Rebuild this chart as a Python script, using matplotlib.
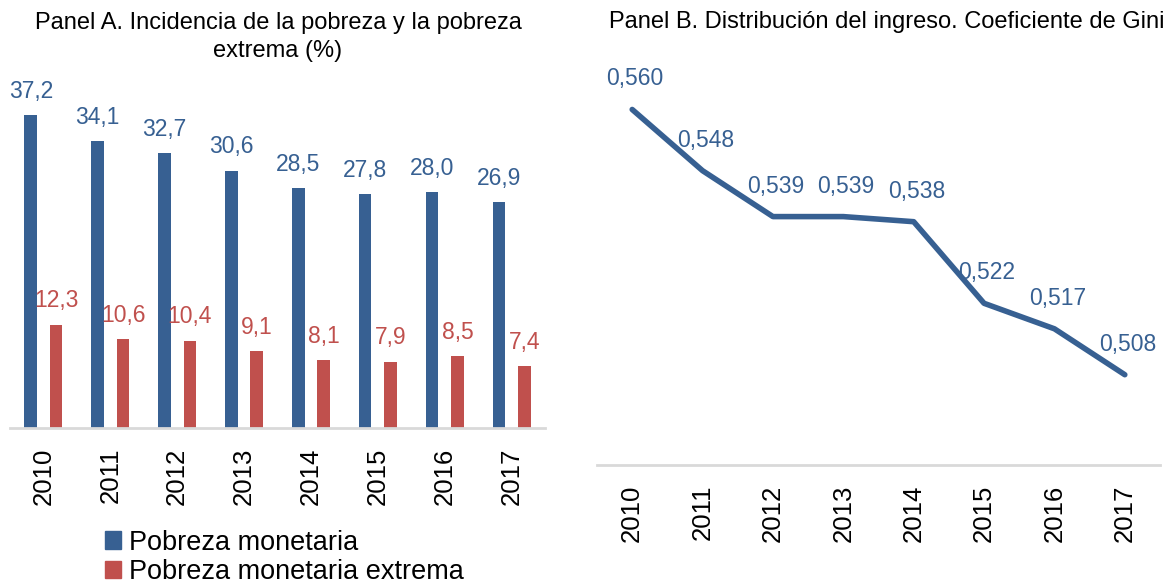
import matplotlib.pyplot as plt
from matplotlib.patches import Patch

plt.rcParams['font.family'] = ['Liberation Sans', 'DejaVu Sans']

years = ['2010', '2011', '2012', '2013', '2014', '2015', '2016', '2017']
pobreza = [37.2, 34.1, 32.7, 30.6, 28.5, 27.8, 28.0, 26.9]
pobreza_extrema = [12.3, 10.6, 10.4, 9.1, 8.1, 7.9, 8.5, 7.4]
gini = [0.560, 0.548, 0.539, 0.539, 0.538, 0.522, 0.517, 0.508]

blue = '#376092'
red = '#C0504D'
axis_gray = '#D9D9D9'


def fmt(v, nd):
    return f'{v:.{nd}f}'.replace('.', ',')


fig = plt.figure(figsize=(11.73, 5.87), dpi=100)

# Panel A
ax1 = fig.add_axes([10 / 1173, 1 - 428 / 587, 535 / 1173, 355 / 587])
x = range(len(years))
w = 0.19
ax1.bar([i - 0.19 for i in x], pobreza, width=w, color=blue)
ax1.bar([i + 0.19 for i in x], pobreza_extrema, width=w, color=red)
for i in x:
    ax1.annotate(fmt(pobreza[i], 1), (i - 0.19, pobreza[i]), xytext=(0, 17),
                 textcoords='offset points', ha='center', va='center',
                 fontsize=16.5, color=blue)
    ax1.annotate(fmt(pobreza_extrema[i], 1), (i + 0.19, pobreza_extrema[i]), xytext=(0, 17),
                 textcoords='offset points', ha='center', va='center',
                 fontsize=16.5, color=red)
ax1.set_xlim(-0.5, len(years) - 0.5)
ax1.set_ylim(0, 42.2)
ax1.set_xticks(list(x))
ax1.set_xticklabels(years, rotation=90, fontsize=18.5)
ax1.tick_params(axis='x', length=0, pad=14)
ax1.set_yticks([])
for s in ['top', 'right', 'left']:
    ax1.spines[s].set_visible(False)
ax1.spines['bottom'].set_color(axis_gray)
ax1.spines['bottom'].set_linewidth(2)

fig.text(278 / 1173, 1 - 37 / 587, 'Panel A. Incidencia de la pobreza y la pobreza\nextrema (%)',
         ha='center', va='center', fontsize=17, linespacing=1.35)

handles = [Patch(color=blue, label='Pobreza monetaria'),
           Patch(color=red, label='Pobreza monetaria extrema')]
fig.legend(handles=handles, loc='upper left', bbox_to_anchor=(91 / 1173, 1 - 516 / 587),
           frameon=False, fontsize=19.5, handlelength=0.6, handleheight=0.6,
           handletextpad=0.3, labelspacing=0.12, borderpad=0)

# Panel B
ax2 = fig.add_axes([597 / 1173, 1 - 465 / 587, 563 / 1173, 405 / 587])
ax2.plot(list(x), gini, color=blue, linewidth=4, solid_capstyle='round')
for i in x:
    ax2.annotate(fmt(gini[i], 3), (i, gini[i]), xytext=(2, 22),
                 textcoords='offset points', ha='center', va='center',
                 fontsize=16.5, color=blue)
ax2.set_xlim(-0.5, len(years) - 0.5)
ax2.set_ylim(0.4903, 0.5697)
ax2.set_xticks(list(x))
ax2.set_xticklabels(years, rotation=90, fontsize=18.5)
ax2.tick_params(axis='x', length=0, pad=14)
ax2.set_yticks([])
for s in ['top', 'right', 'left']:
    ax2.spines[s].set_visible(False)
ax2.spines['bottom'].set_color(axis_gray)
ax2.spines['bottom'].set_linewidth(2)

fig.text(887 / 1173, 1 - 22 / 587, 'Panel B. Distribución del ingreso. Coeficiente de Gini',
         ha='center', va='center', fontsize=17)

fig.savefig('out.png', dpi=100)
